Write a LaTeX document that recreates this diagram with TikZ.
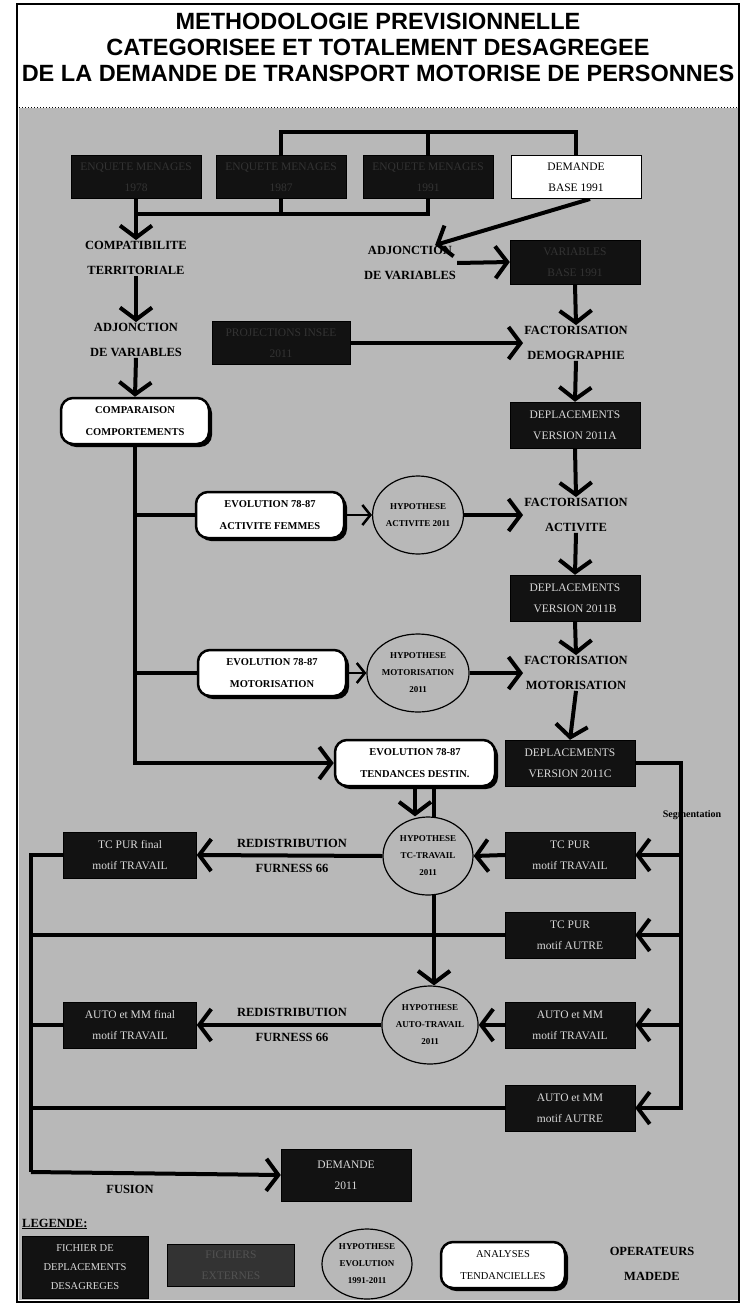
\documentclass[tikz,border=0pt]{standalone}
\usepackage{fontspec}
\setmainfont{Liberation Serif}
\newfontfamily\titrefont{Liberation Sans Bold}
\usetikzlibrary{arrows.meta,shapes.geometric,shadows}
\pgfdeclarelayer{fond}
\pgfdeclarelayer{liens}
\pgfsetlayers{fond,liens,main}
\definecolor{gristrame}{gray}{0.72}
\definecolor{fichier}{gray}{0.07}
\definecolor{textefich}{gray}{0.85}
\definecolor{texteterne}{gray}{0.2}
\begin{document}
\begin{tikzpicture}[x=1pt,y=-1pt,
	fich/.style={draw=black,fill=fichier,text=textefich,minimum width=130,minimum height=46,align=center,inner sep=1pt,font=\fontsize{11.5}{21}\selectfont},
	terne/.style={fich,text=texteterne,minimum height=43},
	demande/.style={fich,fill=white,text=black,line width=1pt,minimum height=43},
	analyse/.style={draw,line width=2.5pt,fill=white,rounded corners=12pt,minimum width=148,minimum height=46,align=center,inner sep=2pt,font=\bfseries\fontsize{10.5}{22}\selectfont,drop shadow={shadow xshift=3pt,shadow yshift=-3pt,fill=black,opacity=1}},
	hypo/.style={ellipse,draw,line width=1.2pt,fill=gristrame,minimum width=90,minimum height=78,inner sep=0pt,align=center,font=\bfseries\fontsize{9}{17}\selectfont},
	oper/.style={align=center,inner sep=1pt,font=\bfseries\fontsize{12.5}{25}\selectfont},
	trait/.style={line width=4pt},
	fleche/.style={trait,-{Straight Barb[length=12pt,width=32pt,line width=4pt]}},
	petite/.style={line width=2.5pt,-{Straight Barb[length=8pt,width=20pt,line width=2.5pt]}}]
\useasboundingbox (0,0) rectangle (740,1308);
\begin{pgfonlayer}{fond}
\fill[white] (0,0) rectangle (740,1308);
\fill[gristrame] (19,108) rectangle (738,1300);
\draw[line width=1pt,dotted] (19,108) -- (738,108);
\draw[line width=2pt] (17,4) rectangle (739,1302);
\end{pgfonlayer}
% titre
\node[align=center,font=\titrefont\fontsize{23.5}{26}\selectfont] (titre) at (378,47) {METHODOLOGIE PREVISIONNELLE\\CATEGORISEE ET TOTALEMENT DESAGREGEE\\DE LA DEMANDE DE TRANSPORT MOTORISE DE PERSONNES};
% fichiers de base
\node[terne] (enq78) at (136,177) {ENQUETE MENAGES\\1978};
\node[terne] (enq87) at (281,177) {ENQUETE MENAGES\\1987};
\node[terne] (enq91) at (428,177) {ENQUETE MENAGES\\1991};
\node[demande] (dem91) at (576,177) {DEMANDE\\BASE 1991};
\node[oper] (compat) at (136,258) {COMPATIBILITE\\TERRITORIALE};
\node[oper] (adj2) at (410,263) {ADJONCTION\\DE VARIABLES};
\node[terne,minimum height=44] (var91) at (575,262) {VARIABLES\\BASE 1991};
\node[oper] (adj1) at (136,340) {ADJONCTION\\DE VARIABLES};
\node[terne,minimum width=138] (proj) at (281,343) {PROJECTIONS INSEE\\2011};
\node[oper] (factdem) at (576,343) {FACTORISATION\\DEMOGRAPHIE};
\node[analyse] (comp) at (135,421) {COMPARAISON\\COMPORTEMENTS};
\node[fich] (v11a) at (575,425) {DEPLACEMENTS\\VERSION 2011A};
% activite et motorisation
\node[analyse] (evo1) at (270,515) {EVOLUTION 78-87\\ACTIVITE FEMMES};
\node[hypo] (hyp1) at (418,515) {HYPOTHESE\\ACTIVITE 2011};
\node[oper] (factact) at (576,515) {FACTORISATION\\ACTIVITE};
\node[fich] (v11b) at (575,598) {DEPLACEMENTS\\VERSION 2011B};
\node[analyse] (evo2) at (272,673) {EVOLUTION 78-87\\MOTORISATION};
\node[hypo] (hyp2) at (418,673) {HYPOTHESE\\MOTORISATION\\2011};
\node[oper] (factmot) at (576,673) {FACTORISATION\\MOTORISATION};
\node[analyse,minimum width=160] (evo3) at (415,763) {EVOLUTION 78-87\\TENDANCES DESTIN.};
\node[fich] (v11c) at (570,763) {DEPLACEMENTS\\VERSION 2011C};
% segmentation
\node[font=\bfseries\fontsize{10}{12}\selectfont] (segm) at (692,815) {Segmentation};
\node[hypo] (hyptc) at (428,856) {HYPOTHESE\\TC-TRAVAIL\\2011};
\node[fich] (tctrav) at (570,855) {TC PUR\\motif TRAVAIL};
\node[fich,minimum width=133] (tcfinal) at (130,855) {TC PUR final\\motif TRAVAIL};
\node[oper] (redis1) at (292,856) {REDISTRIBUTION\\FURNESS 66};
\node[fich] (tcautre) at (570,935) {TC PUR\\motif AUTRE};
\node[hypo] (hypauto) at (430,1025) {HYPOTHESE\\AUTO-TRAVAIL\\2011};
\node[fich] (autotrav) at (570,1025) {AUTO et MM\\motif TRAVAIL};
\node[fich,minimum width=133] (autofinal) at (130,1025) {AUTO et MM final\\motif TRAVAIL};
\node[oper] (redis2) at (292,1025) {REDISTRIBUTION\\FURNESS 66};
\node[fich] (autoautre) at (570,1108) {AUTO et MM\\motif AUTRE};
\node[fich,minimum height=52] (dem11) at (346,1175) {DEMANDE\\2011};
\node[oper] (fusion) at (130,1189) {FUSION};
% legende
\node[oper,anchor=west] (legende) at (21,1224) {\underline{LEGENDE:}};
\node[fich,minimum width=126,minimum height=62,font=\fontsize{10.5}{19}\selectfont] (legfich) at (85,1267) {FICHIER DE\\DEPLACEMENTS\\DESAGREGES};
\node[fich,fill=black!80,text=black!68,minimum width=127,minimum height=42] (legbase) at (231,1265) {FICHIERS\\EXTERNES};
\node[hypo,minimum height=70] (leghyp) at (367,1264) {HYPOTHESE\\EVOLUTION\\1991-2011};
\node[analyse,minimum width=124,font=\fontsize{10.5}{22}\selectfont] (legana) at (503,1265) {ANALYSES\\TENDANCIELLES};
\node[oper] (legop) at (652,1264) {OPERATEURS\\MADEDE};
\coordinate (basbarre) at (136,214);
\coordinate (seg) at (681,763);
\coordinate (fus) at (31,1172);
\begin{pgfonlayer}{liens}
\draw[trait] (dem91.north) -- ++(0,-23) -| (enq87.north);
\draw[trait] (enq91.north) -- ++(0,-23);
\draw[trait] (enq87.south) |- (basbarre);
\draw[trait] (enq91.south) |- (basbarre);
\draw[fleche] (enq78.south) -- (compat.north);
\draw[fleche] ([xshift=14pt]dem91.south) -- ([xshift=-22pt]adj2.north east);
\draw[fleche] (adj2.east) -- (var91.west);
\draw[fleche] (compat.south) -- (adj1.north);
\draw[fleche] (adj1.south) -- (comp.north);
\draw[fleche] (var91.south) -- (factdem.north);
\draw[fleche] (proj.east) -- (factdem.west);
\draw[fleche] (factdem.south) -- (v11a.north);
\draw[fleche] (v11a.south) -- (factact.north);
\draw[fleche] (factact.south) -- (v11b.north);
\draw[fleche] (v11b.south) -- (factmot.north);
\draw[fleche] (factmot.south) -- (v11c.north);
\draw[fleche] (comp.south) |- (evo3.west);
\draw[trait] (comp.south |- evo1.west) -- (evo1.west);
\draw[trait] (comp.south |- evo2.west) -- (evo2.west);
\draw[petite] (evo1.east) -- (hyp1.west);
\draw[petite] (evo2.east) -- (hyp2.west);
\draw[fleche] (hyp1.east) -- (factact.west);
\draw[fleche] (hyp2.east) -- (factmot.west);
\draw[fleche] (evo3.south) -- (evo3.south |- hyptc.north);
\draw[fleche] ([xshift=19pt]evo3.south) -- ([xshift=19pt]evo3.south |- hypauto.north);
\draw[fleche] (v11c.east) -- (seg) |- (autoautre.east);
\draw[fleche] (seg |- tctrav.east) -- (tctrav.east);
\draw[fleche] (seg |- tcautre.east) -- (tcautre.east);
\draw[fleche] (seg |- autotrav.east) -- (autotrav.east);
\draw[fleche] (tctrav.west) -- (hyptc.east);
\draw[fleche] (hyptc.west) -- (tcfinal.east);
\draw[fleche] (autotrav.west) -- (hypauto.east);
\draw[fleche] (hypauto.west) -- (autofinal.east);
\draw[trait] (tcfinal.west) -| (fus);
\draw[trait] (tcautre.west) -- (tcautre.west -| fus);
\draw[trait] (autofinal.west) -- (autofinal.west -| fus);
\draw[trait] (autoautre.west) -- (autoautre.west -| fus);
\draw[fleche] (fus) -- (dem11.west);
\end{pgfonlayer}
\end{tikzpicture}
\end{document}
